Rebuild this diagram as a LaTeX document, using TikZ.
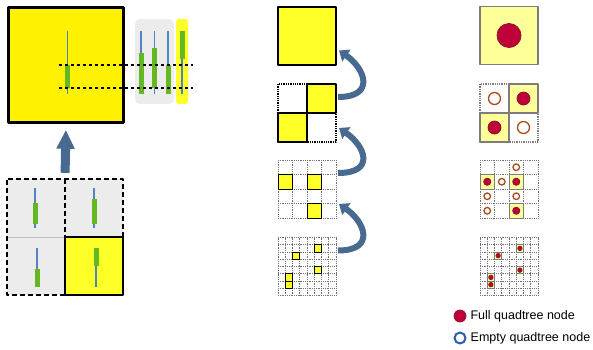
\documentclass[tikz,border=0pt]{standalone}
\usepackage{fontspec}
\setmainfont{Liberation Sans}
\usetikzlibrary{arrows.meta,calc,positioning}
\definecolor{qyellow}{RGB}{255,255,40}
\definecolor{lyellow}{RGB}{255,255,153}
\definecolor{panelgray}{RGB}{236,236,236}
\definecolor{edgegray}{RGB}{125,125,125}
\definecolor{wickblue}{RGB}{85,130,195}
\definecolor{bodygreen}{RGB}{100,185,35}
\definecolor{steel}{RGB}{72,106,145}
\definecolor{crimson}{RGB}{192,0,58}
\definecolor{darkred}{RGB}{135,25,35}
\definecolor{rust}{RGB}{170,75,25}
\definecolor{ringblue}{RGB}{40,95,170}
\tikzset{
	tile/.style={minimum size=58pt,inner sep=0pt,outer sep=0pt},
	wick/.style={wickblue,line width=1.3pt},
	body/.style={fill=bodygreen},
	gridline/.style={black!55,densely dotted,line width=0.8pt},
	fullnode/.style={fill=crimson,draw=darkred,line width=0.8pt},
	emptynode/.style={fill=white,draw=rust,line width=1.3pt},
	backarrow/.style={steel,line width=6pt,-{Triangle[width=14pt,length=9pt]}},
	legend/.style={font=\fontsize{12.5}{15}\selectfont,inner sep=1pt},
}
\begin{document}
\begin{tikzpicture}[x=1pt,y=-1pt,line join=round]
	\useasboundingbox (0,0) rectangle (593,349);
	% left: a window and its four children
	\node[draw,line width=2.5pt,fill=yellow,minimum size=115pt,inner sep=0pt] (big) at (66,65) {};
	\node[fill=panelgray,rounded corners=5pt,minimum width=39pt,minimum height=85pt] (panel) at (154.5,61.5) {};
	\node[fill=qyellow,rounded corners=3pt,minimum width=12pt,minimum height=85pt] (strip) at (182,61.5) {};
	\node[minimum size=116pt,inner sep=0pt] (quad) at (65,237) {};
	\fill[panelgray] (quad.north west) rectangle (quad.south east);
	\draw[gray!50] (quad.west) -- (quad.center);
	\draw[line width=2pt,dash pattern=on 5pt off 3pt] (quad.east) -- (quad.north east) -- (quad.north west) -- (quad.south west) -- (quad.south) (quad.north) -- (quad.center);
	\draw[line width=2pt,fill=qyellow] (quad.center) rectangle (quad.south east);
	\foreach \x/\wt/\wb/\bt/\bb in {67.5/31/94/65/88,141/31/94/53/94,154.5/31/94/48/88,168/31/94/65/94,182/31/94/31/59,35/188/228/203/224,94/188/228/199/224,37/248/287/269/287,96/248/287/248/266}{
		\draw[wick] (\x,\wt) -- (\x,\wb);
		\fill[body] (\x-2.5,\bt) rectangle (\x+2.5,\bb);}
	\draw[line width=1.2pt,dashed] (59,65) -- (193,65) (59,88) -- (193,88);
	\draw[steel,line width=9pt,-{Triangle[width=17pt,length=19pt]},shorten <=6pt,shorten >=6pt] (quad.north) -- (big.south);
	% quadtree levels: data tiles and node tiles
	\foreach \col/\x in {m/307,r/509}
		\foreach \lev/\y in {0/35.5,1/113,2/189,3/266.5}
			\node[tile] (\col\lev) at (\x,\y) {};
	\foreach \col/\yel/\edge/\w in {m/qyellow/black/2,r/lyellow/edgegray/1.5}{
		\draw[\edge,line width=\w pt,fill=\yel] (\col0.north west) rectangle (\col0.south east);
		\draw[\edge,densely dotted,line width=1.3pt] (\col1.north west) rectangle (\col1.south east);
		\foreach \i/\j in {1/0,0/1}
			\draw[\edge,line width=\w pt,fill=\yel] ($(\col1.north west)+(\i*29,\j*29)$) rectangle +(29,29);
		\foreach \lev/\n/\s in {2/4/14.5,3/8/7.25}
			\foreach \k in {0,...,\n}
				\draw[gridline] ($(\col\lev.north west)+(\k*\s,0)$) -- +(0,58) ($(\col\lev.north west)+(0,\k*\s)$) -- +(58,0);
		\foreach \lev/\s/\i/\j in {2/14.5/0/1,2/14.5/2/1,2/14.5/2/3,3/7.25/5/1,3/7.25/2/2,3/7.25/5/4,3/7.25/1/5,3/7.25/1/6}
			\draw[\edge,line width=1pt,fill=\yel] ($(\col\lev.north west)+(\i*\s,\j*\s)$) rectangle +(\s,\s);
	}
	\draw[fullnode] (r0.center) circle[radius=12pt];
	\foreach \lev/\s/\i/\j/\rad in {1/29/1/0/6.5,1/29/0/1/6.5,2/14.5/0/1/3.6,2/14.5/2/1/3.6,2/14.5/2/3/3.6,3/7.25/5/1/2.2,3/7.25/2/2/2.2,3/7.25/5/4/2.2,3/7.25/1/5/2.2,3/7.25/1/6/2.2}
		\draw[fullnode] ($(r\lev.north west)+(\i*\s+\s/2,\j*\s+\s/2)$) circle[radius=\rad pt];
	\foreach \lev/\s/\i/\j/\rad in {1/29/0/0/6,1/29/1/1/6,2/14.5/2/0/3.3,2/14.5/1/1/3.3,2/14.5/0/2/3.3,2/14.5/2/2/3.3,2/14.5/0/3/3.3}
		\draw[emptynode] ($(r\lev.north west)+(\i*\s+\s/2,\j*\s+\s/2)$) circle[radius=\rad pt];
	% arrows back up the levels
	\foreach \a/\b in {1/0,2/1,3/2}{
		\coordinate (t\a) at ($(m\a.north east)+(2,13)$);
		\coordinate (h\a) at ($(m\b.south east)+(3,-14)$);
		\draw[backarrow] (t\a) .. controls +(38,0) and +(26,18) .. (h\a);}
	% legend
	\node[circle,fullnode,minimum size=12pt,inner sep=0pt] (kfull) at (460,316) {};
	\node[circle,draw=ringblue,line width=2pt,minimum size=11pt,inner sep=0pt] (kempty) at (460,338) {};
	\node[legend,right=3pt of kfull] (tfull) {Full quadtree node};
	\node[legend,right=3pt of kempty] (tempty) {Empty quadtree node};
\end{tikzpicture}
\end{document}
